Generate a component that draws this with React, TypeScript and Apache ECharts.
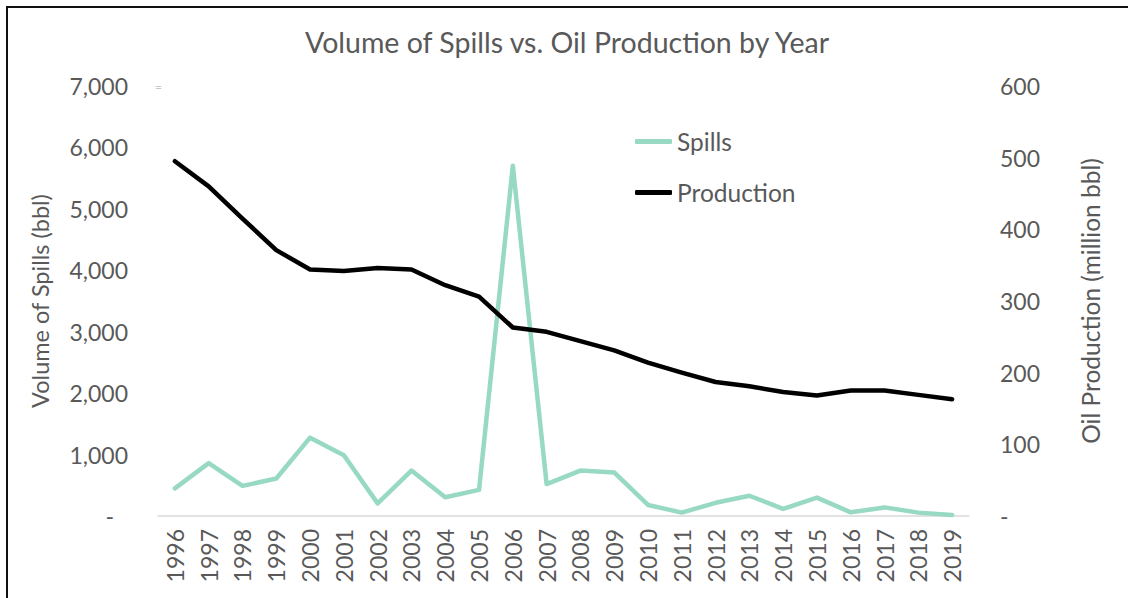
import React, { useEffect, useRef } from "react";
import * as echarts from "echarts";

const years = ["1996","1997","1998","1999","2000","2001","2002","2003","2004","2005","2006","2007","2008","2009","2010","2011","2012","2013","2014","2015","2016","2017","2018","2019"];
const spills = [450, 860, 490, 610, 1275, 990, 205, 740, 305, 425, 5700, 520, 740, 710, 180, 55, 215, 330, 115, 300, 60, 140, 55, 15];
const production = [495, 460, 415, 371, 344, 342, 346, 344, 322, 306, 263, 257, 244, 231, 214, 200, 187, 181, 173, 168, 175, 175, 169, 163];
const leftTicks = { min: 0, max: 7000, interval: 1000 };
const rightTicks = { min: 0, max: 600, interval: 100 };

const FONT = "Lato";
const TXT = "#595959";

export default function App() {
  const ref = useRef<HTMLDivElement>(null);
  useEffect(() => {
    if (!ref.current) return;
    const chart = echarts.init(ref.current, undefined, { renderer: "svg" });
    chart.setOption({
      animation: false,
      backgroundColor: "#fff",
      textStyle: { fontFamily: FONT },
      title: {
        text: "Volume of Spills vs. Oil Production by Year",
        left: 300,
        top: 22,
        textStyle: { fontFamily: FONT, fontSize: 28.5, fontWeight: "normal", color: TXT },
      },
      legend: {
        orient: "vertical",
        left: 635,
        top: 129,
        padding: 0,
        icon: "roundRect",
        itemWidth: 37,
        itemHeight: 5,
        itemGap: 26,
        textStyle: { fontFamily: FONT, fontSize: 24.5, color: TXT },
        data: ["Spills", "Production"],
      },
      grid: { left: 158, right: 159, top: 86, bottom: 82 },
      xAxis: {
        type: "category",
        data: years,
        boundaryGap: true,
        axisLine: { lineStyle: { color: "#D9D9D9", width: 1.5 } },
        axisTick: { show: false },
        axisLabel: { rotate: 90, margin: 13, fontFamily: FONT, fontSize: 23, color: TXT, interval: 0 },
      },
      yAxis: [
        {
          type: "value",
          ...leftTicks,
          name: "Volume of Spills (bbl)",
          nameLocation: "middle",
          nameRotate: 90,
          nameGap: 106,
          nameTextStyle: { fontFamily: FONT, fontSize: 23.5, color: TXT },
          splitLine: { show: false },
          axisLine: { show: false },
          axisTick: { show: false },
          axisLabel: {
            margin: 30,
            fontFamily: FONT,
            fontSize: 23,
            color: TXT,
            formatter: (v: number) => (v === 0 ? "{d|-}" : v.toLocaleString("en-US")),
            rich: { d: { padding: [0, 14, 0, 0], fontFamily: FONT, fontSize: 23, color: TXT } },
          },
        },
        {
          type: "value",
          ...rightTicks,
          name: "Oil Production (million bbl)",
          nameLocation: "middle",
          nameRotate: 90,
          nameGap: 109,
          nameTextStyle: { fontFamily: FONT, fontSize: 24.5, color: TXT },
          splitLine: { show: false },
          axisLine: { show: false },
          axisTick: { show: false },
          axisLabel: {
            margin: 31,
            fontFamily: FONT,
            fontSize: 23,
            color: TXT,
            formatter: (v: number) => (v === 0 ? "-" : String(v)),
          },
        },
      ],
      series: [
        {
          name: "Spills",
          type: "line",
          yAxisIndex: 0,
          data: spills,
          symbol: "none",
          lineStyle: { color: "#97D9C3", width: 4.5, cap: "round", join: "round" },
          itemStyle: { color: "#97D9C3" },
        },
        {
          name: "Production",
          type: "line",
          yAxisIndex: 1,
          data: production,
          symbol: "none",
          lineStyle: { color: "#000", width: 4.5, cap: "round", join: "round" },
          itemStyle: { color: "#000" },
        },
      ],
      graphic: [
        {
          type: "rect",
          shape: { x: 7, y: 7, width: 1400, height: 900 },
          style: { fill: "none", stroke: "#111", lineWidth: 2 },
          silent: true,
        },
        {
          type: "text",
          x: 155,
          y: 80,
          style: { text: "=", fontSize: 12, fill: "#c8c8c8", fontFamily: FONT },
          silent: true,
        },
      ],
    });
    return () => chart.dispose();
  }, []);
  return (
    <div
      ref={ref}
      style={{ position: "fixed", left: 0, top: 0, width: 1128, height: 598 }}
    />
  );
}
